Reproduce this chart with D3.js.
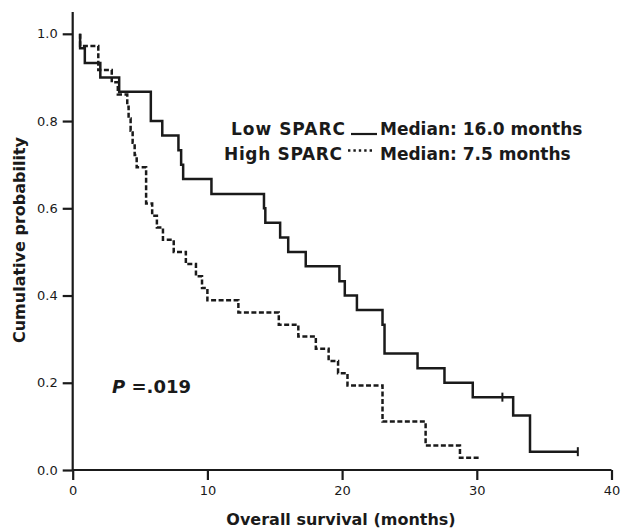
<!DOCTYPE html>
<html>
<head>
<meta charset="utf-8">
<script src="https://cdn.jsdelivr.net/npm/d3@7"></script>
<style>
  body { margin: 0; background: #fff; }
  svg text { font-family: "DejaVu Sans", Verdana, sans-serif; fill: #1a1a1a; }
</style>
</head>
<body>
<svg id="chart" width="621" height="528"></svg>
<script>
// Kaplan-Meier steps (time in months, survival after the step)
const lowTimes = [0.55, 0.9, 2.05, 3.45, 5.8, 6.65, 7.85, 8.05, 8.2, 10.3, 14.2, 14.3, 15.4, 16.0, 17.3, 19.8, 20.2, 21.1, 23.0, 23.15, 25.6, 27.6, 29.7, 32.7, 33.95];
const lowSurv = [0.967, 0.933, 0.9, 0.867, 0.8, 0.767, 0.733, 0.7, 0.667, 0.633, 0.6, 0.567, 0.533, 0.5, 0.467, 0.433, 0.4, 0.367, 0.333, 0.267, 0.233, 0.2, 0.167, 0.125, 0.042];
const lowEnd = 37.5;
const lowCensored = [31.9, 37.5];

const highTimes = [0.55, 1.9, 2.9, 3.35, 4.05, 4.15, 4.3, 4.45, 4.6, 4.75, 5.45, 5.9, 6.25, 6.7, 7.5, 8.4, 9.15, 9.6, 10.0, 12.3, 15.3, 16.75, 18.05, 19.0, 19.7, 20.4, 23.0, 26.2, 28.75];
const highSurv = [0.972, 0.917, 0.889, 0.861, 0.833, 0.806, 0.778, 0.75, 0.722, 0.694, 0.611, 0.583, 0.556, 0.528, 0.5, 0.472, 0.444, 0.417, 0.389, 0.361, 0.333, 0.306, 0.278, 0.25, 0.222, 0.194, 0.111, 0.056, 0.028];
const highEnd = 30.3;

const xTicks = [0, 10, 20, 30, 40];
const yTicks = [0.0, 0.2, 0.4, 0.6, 0.8, 1.0];

const svg = d3.select('#chart');
const ink = '#1a1a1a';

const x = d3.scaleLinear().domain([0, 40]).range([72.7, 611.5]);
const y = d3.scaleLinear().domain([0, 1.05]).range([470, 12]);

// step points: start at 1.0 on the first event time
function steps(times, surv, end) {
    const pts = [[times[0], 1.0]];
    times.forEach((t, i) => pts.push([t, surv[i]]));
    pts.push([end, surv[surv.length - 1]]);
    return pts;
}

const line = d3.line()
    .x(d => x(d[0]))
    .y(d => y(d[1]))
    .curve(d3.curveStepAfter);

// axes
const xAxis = d3.axisBottom(x).tickValues(xTicks).tickSize(10).tickPadding(6).tickFormat(d3.format('d'));
const yAxis = d3.axisLeft(y).tickValues(yTicks).tickSize(10).tickPadding(5).tickFormat(d3.format('.1f'));

const gx = svg.append('g').attr('transform', 'translate(0,470)').call(xAxis);
const gy = svg.append('g').attr('transform', 'translate(72.7,0)').call(yAxis);

[gx, gy].forEach(g => {
    g.select('.domain').attr('stroke', ink).attr('stroke-width', 2.2);
    g.selectAll('.tick line').attr('stroke', ink).attr('stroke-width', 2.2);
    g.selectAll('.tick text')
        .attr('fill', ink)
        .style('font-family', '"DejaVu Sans", Verdana, sans-serif')
        .style('font-size', '13px');
});
gx.select('.domain').attr('d', `M${x(0)},0H${x(40)}`);
gy.select('.domain').attr('d', `M0,${y(0)}V${y(1.05)}`);

// curves
svg.append('path')
    .datum(steps(lowTimes, lowSurv, lowEnd))
    .attr('d', line)
    .attr('fill', 'none')
    .attr('stroke', ink)
    .attr('stroke-width', 2.5);

svg.append('path')
    .datum(steps(highTimes, highSurv, highEnd))
    .attr('d', line)
    .attr('fill', 'none')
    .attr('stroke', ink)
    .attr('stroke-width', 2.5)
    .attr('stroke-dasharray', '5,2.5');

// censor marks on the low SPARC curve
const lowAt = t => {
    let s = 1.0;
    lowTimes.forEach((tt, i) => { if (tt <= t) s = lowSurv[i]; });
    return s;
};
svg.selectAll('.censor')
    .data(lowCensored)
    .enter()
    .append('line')
    .attr('class', 'censor')
    .attr('x1', d => x(d)).attr('x2', d => x(d))
    .attr('y1', d => y(lowAt(d)) - 4.5)
    .attr('y2', d => y(lowAt(d)) + 4.5)
    .attr('stroke', ink)
    .attr('stroke-width', 2);

// legend
const legend = svg.append('g').style('font-weight', 'bold').style('font-size', '17px');
legend.append('text').attr('x', 345).attr('y', 135).attr('text-anchor', 'end')
    .attr('textLength', 114).text('Low SPARC');
legend.append('line').attr('x1', 351).attr('x2', 377).attr('y1', 134).attr('y2', 134)
    .attr('stroke', ink).attr('stroke-width', 2.2);
legend.append('text').attr('x', 380).attr('y', 135).text('Median: 16.0 months');

legend.append('text').attr('x', 342).attr('y', 160).attr('text-anchor', 'end')
    .attr('textLength', 118).text('High SPARC');
legend.append('line').attr('x1', 348).attr('x2', 374).attr('y1', 150.5).attr('y2', 150.5)
    .attr('stroke', ink).attr('stroke-width', 2.4).attr('stroke-dasharray', '2.4,3');
legend.append('text').attr('x', 380).attr('y', 160).text('Median: 7.5 months');

// P value
const pText = svg.append('text').attr('x', 112).attr('y', 393)
    .style('font-weight', 'bold').style('font-size', '18px');
pText.append('tspan').style('font-style', 'italic').text('P');
pText.append('tspan').text(' =.019');

// axis titles
svg.append('text')
    .attr('x', 341).attr('y', 525)
    .attr('text-anchor', 'middle')
    .style('font-weight', 'bold').style('font-size', '16px')
    .text('Overall survival (months)');

svg.append('text')
    .attr('transform', 'translate(25,240) rotate(-90)')
    .attr('text-anchor', 'middle')
    .style('font-weight', 'bold').style('font-size', '16px')
    .text('Cumulative probability');
</script>
</body>
</html>
